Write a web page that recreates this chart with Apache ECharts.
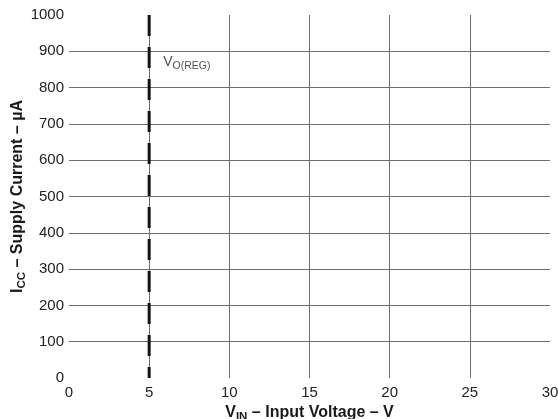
<!DOCTYPE html>
<html>
<head>
<meta charset="utf-8">
<script src="https://cdn.jsdelivr.net/npm/echarts@6/dist/echarts.min.js"></script>
<style>html,body{margin:0;padding:0;background:#fff}#c{width:558px;height:419px}</style>
</head>
<body>
<div id="c"></div>
<script>
// Data
var xTicks = [0, 5, 10, 15, 20, 25, 30];
var yTicks = [0, 100, 200, 300, 400, 500, 600, 700, 800, 900, 1000];
var regLineX = [5, 5];
var regLineY = [1000, 0];
var regLabelPos = [5, 900];

var chart = echarts.init(document.getElementById('c'), null, {renderer: 'canvas'});
var font = '"Liberation Sans", Arial, sans-serif';
var nameRich = {
  b: {fontFamily: font, fontSize: 16, fontWeight: 'bold', color: '#1a1a1a', lineHeight: 20, verticalAlign: 'middle'},
  sub: {fontFamily: font, fontSize: 11.5, fontWeight: 'bold', color: '#1a1a1a', lineHeight: 10, verticalAlign: 'bottom'}
};
chart.setOption({
  animation: false,
  backgroundColor: '#fff',
  grid: {left: 69, right: 8, top: 15, bottom: 41, containLabel: false, outerBoundsMode: 'none'},
  xAxis: {
    type: 'value', min: xTicks[0], max: xTicks[xTicks.length - 1], interval: 5,
    axisLine: {show: false}, axisTick: {show: false},
    axisLabel: {fontFamily: font, fontSize: 15, color: '#222', margin: 7, formatter: function (v) { return String(v); }},
    splitLine: {show: true, showMinLine: false, showMaxLine: false, lineStyle: {color: '#6e6e6e', width: 1}},
    name: '{b|V}{sub|IN}{b| – Input Voltage – V}',
    nameLocation: 'middle', nameGap: 22,
    nameTextStyle: {rich: nameRich}
  },
  yAxis: {
    type: 'value', min: yTicks[0], max: yTicks[yTicks.length - 1], interval: 100,
    axisLine: {show: false}, axisTick: {show: false},
    axisLabel: {fontFamily: font, fontSize: 15, color: '#222', margin: 5, formatter: function (v) { return String(v); }},
    splitLine: {show: true, showMinLine: false, showMaxLine: false, lineStyle: {color: '#6e6e6e', width: 1}},
    name: '{b|I}{sub|CC}{b| – Supply Current – µA}',
    nameLocation: 'middle', nameGap: 41, nameMoveOverlap: false,
    nameTextStyle: {rich: nameRich}
  },
  series: [
    {
      type: 'line',
      data: regLineX.map(function (x, i) { return [x, regLineY[i]]; }),
      symbol: 'none',
      lineStyle: {color: '#111', width: 3, type: [21, 11]},
      z: 5
    },
    {
      type: 'scatter',
      data: [regLabelPos],
      symbolSize: 0,
      silent: true,
      label: {
        show: true, position: 'inside', align: 'left', verticalAlign: 'middle', offset: [14, 11],
        formatter: '{v|V}{s|O(REG)}',
        rich: {
          v: {fontFamily: font, fontSize: 14, color: '#222', lineHeight: 18, verticalAlign: 'middle'},
          s: {fontFamily: font, fontSize: 10.5, color: '#222', lineHeight: 9, verticalAlign: 'bottom'}
        }
      }
    }
  ]
});
</script>
</body>
</html>
